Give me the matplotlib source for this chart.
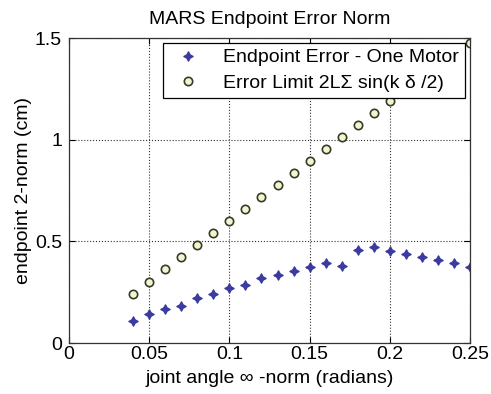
import numpy as np
import matplotlib.pyplot as plt

plt.rcParams['font.family'] = ['Liberation Sans', 'DejaVu Sans']

# joint angle bound (radians)
angle = [0.04, 0.05, 0.06, 0.07, 0.08, 0.09, 0.10, 0.11, 0.12, 0.13, 0.14,
         0.15, 0.16, 0.17, 0.18, 0.19, 0.20, 0.21, 0.22, 0.23, 0.24, 0.25]
# measured endpoint error, one motor perturbed (cm)
err_one = [0.109, 0.142, 0.168, 0.183, 0.219, 0.240, 0.270, 0.284, 0.319,
           0.335, 0.355, 0.373, 0.395, 0.379, 0.458, 0.471, 0.453, 0.438,
           0.422, 0.408, 0.395, 0.376]
# analytic bound 2*L*sum(sin(k*delta/2)) (cm)
err_limit = [0.240, 0.299, 0.363, 0.422, 0.480, 0.539, 0.598, 0.657, 0.719,
             0.778, 0.837, 0.894, 0.953, 1.011, 1.070, 1.129, 1.188, 1.247,
             1.305, 1.362, 1.418, 1.474]

fs = 14

fig = plt.figure(figsize=(4.91, 3.94), dpi=100)
ax = fig.add_axes([0.1405, 0.1294, 0.8167, 0.774])

ax.plot(angle, err_one, linestyle='none', marker=(4, 1, 0), markersize=7,
        color='#3a3aa0', markeredgewidth=0.8,
        label='Endpoint Error - One Motor')
ax.plot(angle, err_limit, linestyle='none', marker='o', markersize=6,
        markerfacecolor='#f0f6d0', markeredgecolor='#353a2a',
        markeredgewidth=1.2, label='Error Limit 2L\u03a3 sin(k \u03b4 /2)')

ax.set_xlim(0, 0.25)
ax.set_ylim(0, 1.5)
ax.set_xticks([0, 0.05, 0.1, 0.15, 0.2, 0.25])
ax.set_xticklabels(['0', '0.05', '0.1', '0.15', '0.2', '0.25'])
ax.set_yticks([0, 0.5, 1, 1.5])
ax.set_yticklabels(['0', '0.5', '1', '1.5'])
ax.tick_params(direction='in', top=True, right=True, labelsize=fs,
               length=4, width=0.8)
ax.tick_params(axis='x', pad=2)
ax.tick_params(axis='y', pad=5)
ax.grid(True, linestyle=':', color='#333333', linewidth=0.8)
for s in ax.spines.values():
    s.set_linewidth(0.9)
    s.set_color('#333333')

ax.set_title('MARS Endpoint Error Norm', fontsize=fs, pad=10)
ax.set_xlabel('joint angle \u221e -norm (radians)', fontsize=fs, labelpad=5)
ax.set_ylabel('endpoint 2-norm (cm)', fontsize=fs, labelpad=2)

leg = ax.legend(loc='upper right', fontsize=fs, fancybox=False,
                framealpha=1, edgecolor='black', borderaxespad=0.25,
                handletextpad=0.8, borderpad=0.3, labelspacing=0.4,
                handlelength=2.0)
leg.get_frame().set_linewidth(0.9)

fig.savefig('out.png', dpi=100)
